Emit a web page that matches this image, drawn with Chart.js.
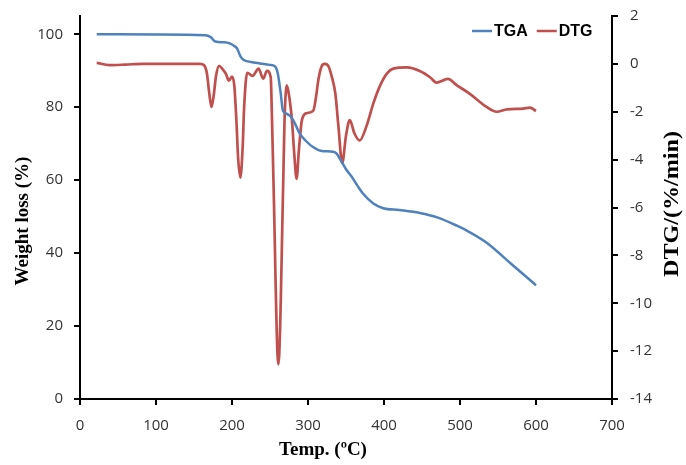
<!DOCTYPE html>
<html>
<head>
<meta charset="utf-8">
<script src="https://cdn.jsdelivr.net/npm/chart.js@4.4.0/dist/chart.umd.min.js"></script>
<style>
  html, body { margin: 0; padding: 0; background: #fff; }
  #wrap { width: 686px; height: 465px; position: relative; }
</style>
</head>
<body>
<div id="wrap"><canvas id="tgaChart" width="686" height="465"></canvas></div>
<script>
// TGA curve: temperature (°C) and weight (%)
const tgaTemp = [22, 100, 165, 172, 178, 190, 197, 203, 207, 211, 215, 225, 237, 250, 256, 260, 264, 267, 272, 279, 284, 289, 297, 307, 318, 333, 338, 343, 350, 358, 365, 372, 386, 399, 420, 447, 470, 496, 513, 536, 566, 600];
const tgaWeight = [100, 99.9, 99.7, 99.2, 98.0, 97.8, 97.5, 96.8, 96.0, 94.0, 93.0, 92.4, 92.0, 91.6, 91.3, 89.5, 84, 79, 78.2, 77.0, 75.0, 72.8, 70.8, 69.0, 68.0, 67.8, 67.2, 65.5, 63.0, 60.8, 58.5, 56.4, 53.6, 52.3, 51.8, 51.0, 49.8, 47.5, 45.7, 42.7, 37.3, 31.2];

// DTG curve: temperature (°C) and rate (%/min)
const dtgTemp = [22, 39, 60, 83, 120, 158, 163, 167, 170, 173, 176, 179, 183, 187, 192, 196, 200, 203, 206, 208, 211, 214, 216, 220, 227, 235, 241, 246, 251, 252, 254.5, 261, 267.5, 269, 272, 275, 279, 282, 285, 288, 292, 298, 307, 310, 314, 318, 322, 327, 331, 336, 340, 345, 350, 355, 361, 368, 377, 386, 395, 404, 412, 430, 447, 461, 469, 484, 496, 513, 535, 548, 562, 583, 592, 600];
const dtgRate = [0.04, -0.05, -0.03, 0.0, 0.0, 0.0, -0.05, -0.4, -1.2, -1.8, -1.3, -0.5, -0.08, -0.2, -0.42, -0.7, -0.53, -0.9, -2.5, -3.9, -4.75, -3.5, -1.8, -0.37, -0.5, -0.2, -0.62, -0.29, -0.57, -1.5, -4.8, -12.55, -4.8, -2.5, -0.9, -1.3, -2.4, -3.8, -4.8, -3.6, -2.35, -2.06, -1.95, -1.5, -0.6, -0.1, 0.0, -0.1, -0.5, -1.25, -2.6, -4.15, -3.0, -2.35, -2.9, -3.2, -2.6, -1.65, -0.9, -0.4, -0.2, -0.15, -0.3, -0.57, -0.78, -0.63, -0.9, -1.25, -1.8, -2.0, -1.9, -1.87, -1.83, -1.97];

// axis ticks
const tempTicks = [0, 100, 200, 300, 400, 500, 600, 700];
const weightTicks = [0, 20, 40, 60, 80, 100];
const dtgTicks = [2, 0, -2, -4, -6, -8, -10, -12, -14];

const tickFont = { family: 'Open Sans', size: 15 };
const tickColor = '#333';

function toPoints(xs, ys) {
    return xs.map((x, i) => ({ x: x, y: ys[i] }));
}

// keep label overhang from shifting the plot area
function fixVertical(width) {
    return s => { s.width = width; s.paddingTop = 0; s.paddingBottom = 0; };
}

// draws axis titles and the legend ourselves (right title reads bottom-up like the original)
const decorPlugin = {
    id: 'decor',
    afterDraw(chart) {
        const ctx = chart.ctx;
        ctx.save();
        ctx.fillStyle = '#000';
        ctx.textAlign = 'center';
        ctx.textBaseline = 'middle';
        ctx.font = 'bold 19px "Liberation Serif"';
        ctx.fillText('Temp. (\u00BAC)', 323, 450);

        ctx.save();
        ctx.translate(23, 221);
        ctx.rotate(-Math.PI / 2);
        ctx.fillText('Weight loss (%)', 0, 0);
        ctx.restore();

        // right title is a bit stretched in the original
        ctx.save();
        ctx.translate(673, 204);
        ctx.rotate(-Math.PI / 2);
        ctx.font = 'bold 21px "Liberation Serif"';
        const w = ctx.measureText('DTG/(%/min)').width;
        ctx.scale(146 / w, 1);
        ctx.fillText('DTG/(%/min)', 0, 0);
        ctx.restore();

        // legend
        ctx.font = 'bold 16px "Liberation Sans"';
        ctx.textAlign = 'left';
        let x = 472;
        const y = 31;
        chart.data.datasets.forEach(ds => {
            ctx.strokeStyle = ds.borderColor;
            ctx.lineWidth = 2.5;
            ctx.beginPath();
            ctx.moveTo(x, y);
            ctx.lineTo(x + 20, y);
            ctx.stroke();
            ctx.fillStyle = '#000';
            ctx.fillText(ds.label, x + 22, y + 1);
            x += 22 + ctx.measureText(ds.label).width + 9;
        });
        ctx.restore();
    }
};

const ctx = document.getElementById('tgaChart').getContext('2d');
new Chart(ctx, {
    type: 'line',
    data: {
        datasets: [
            {
                label: 'TGA',
                data: toPoints(tgaTemp, tgaWeight),
                borderColor: '#4F81BD',
                borderWidth: 2.5,
                pointRadius: 0,
                cubicInterpolationMode: 'monotone',
                yAxisID: 'y'
            },
            {
                label: 'DTG',
                data: toPoints(dtgTemp, dtgRate),
                borderColor: '#C0504D',
                borderWidth: 2.7,
                pointRadius: 0,
                cubicInterpolationMode: 'monotone',
                yAxisID: 'y1'
            }
        ]
    },
    options: {
        responsive: false,
        animation: false,
        layout: { padding: { top: 16, right: 0, left: 0, bottom: 0 } },
        plugins: {
            legend: { display: false },
            tooltip: { enabled: false }
        },
        scales: {
            x: {
                type: 'linear',
                min: 0,
                max: 700,
                afterBuildTicks: s => { s.ticks = tempTicks.map(v => ({ value: v })); },
                afterFit: s => { s.height = 66; s.paddingLeft = 0; s.paddingRight = 0; },
                ticks: { font: tickFont, color: tickColor, padding: 12, maxRotation: 0 },
                grid: { drawOnChartArea: false, color: '#000', lineWidth: 2, tickLength: 6 },
                border: { color: '#000', width: 2 }
            },
            y: {
                position: 'left',
                min: 0,
                max: 105,
                afterBuildTicks: s => { s.ticks = weightTicks.map(v => ({ value: v })); },
                afterFit: fixVertical(80),
                ticks: { font: tickFont, color: tickColor, padding: 11 },
                grid: { drawOnChartArea: false, color: '#000', lineWidth: 2, tickLength: 6 },
                border: { color: '#000', width: 2 }
            },
            y1: {
                position: 'right',
                min: -14,
                max: 2,
                afterBuildTicks: s => { s.ticks = dtgTicks.map(v => ({ value: v })); },
                afterFit: fixVertical(74),
                ticks: { font: tickFont, color: tickColor, padding: 12 },
                grid: { drawOnChartArea: false, color: '#000', lineWidth: 2, tickLength: 6 },
                border: { color: '#000', width: 2 }
            }
        }
    },
    plugins: [decorPlugin]
});
</script>
</body>
</html>
